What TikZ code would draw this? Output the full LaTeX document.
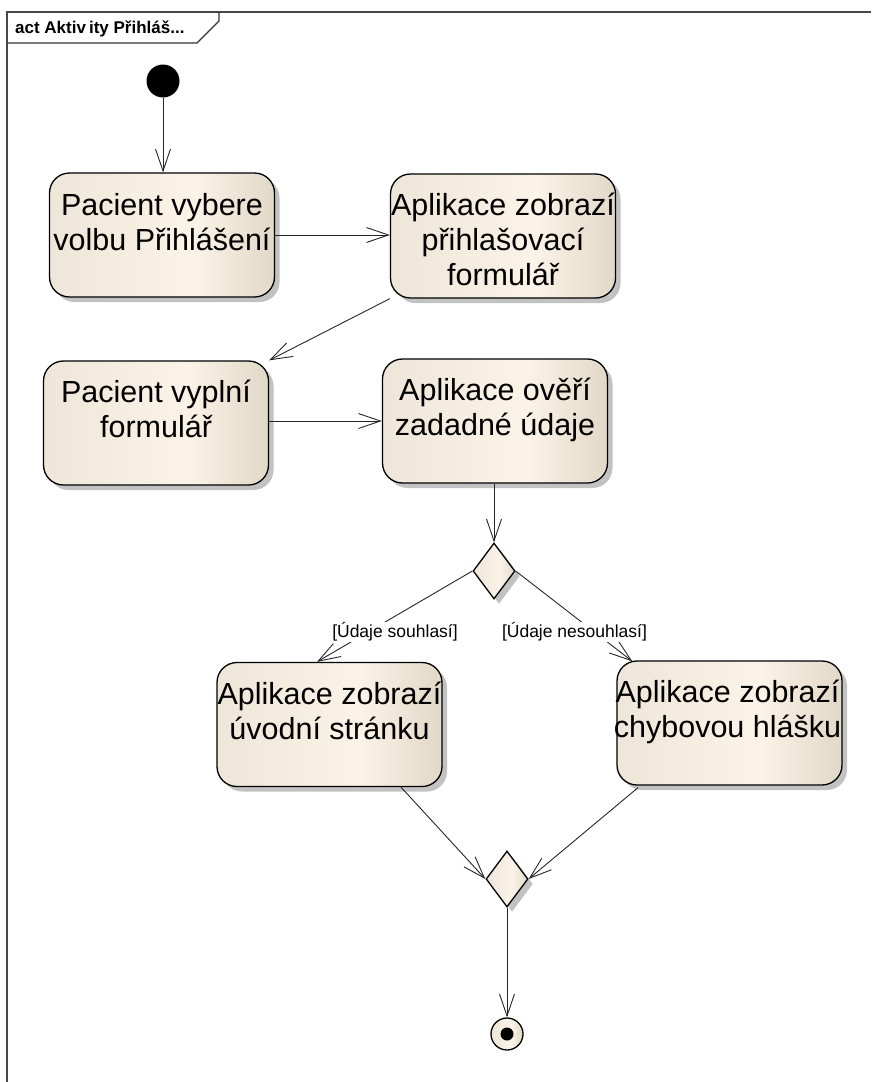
\documentclass[tikz,border=0pt]{standalone}
\usepackage{fontspec}
\setmainfont{Liberation Sans}
\usetikzlibrary{arrows.meta,shapes.geometric,shadows,calc}

\definecolor{actL}{RGB}{238,230,216}
\definecolor{actM}{RGB}{251,243,231}
\definecolor{actR}{RGB}{226,216,200}
\definecolor{frameC}{RGB}{72,72,72}
\pgfdeclarehorizontalshading{actshade}{100bp}{color(0bp)=(actL); color(25bp)=(actL); color(57bp)=(actM); color(75bp)=(actR); color(100bp)=(actR)}

\newcommand\firstline{\rule{0pt}{23pt}}

\tikzset{
  actshadow/.style={drop shadow={shadow xshift=5pt, shadow yshift=-5pt, fill=black!24, opacity=1}},
  actbox/.style={draw=black, line width=1.3pt, rounded corners=20pt, shading=actshade,
    minimum width=225pt, minimum height=124pt, inner sep=0pt, actshadow},
  acttext/.style={anchor=north, inner sep=0pt, align=center, font=\fontsize{30.5}{35}\selectfont},
  flow/.style={draw=black!85, line width=0.9pt, -{Straight Barb[length=22pt,width=15pt]}},
  guard/.style={fill=white, inner sep=1pt, font=\fontsize{17.5}{20}\selectfont},
  decision/.style={diamond, draw=black, line width=1.3pt, shading=actshade,
    minimum width=42pt, minimum height=56pt, inner sep=0pt, actshadow},
}

\begin{document}
\begin{tikzpicture}[x=1pt, y=-1pt]
\useasboundingbox (0,0) rectangle (871,1082);

% diagram frame and its name tab
\draw[frameC, line width=1.5pt] (7,1082) -- (7,12) -- (871,12);
\draw[black!80, line width=1.2pt] (7,43) -- (197,43) -- (219,21) -- (219,12);
\node[anchor=base west, inner sep=0pt, font=\bfseries\fontsize{17}{20}\selectfont] (title) at (15,33) {act Aktiv\kern3pt ity Přihláš...};

% initial and final nodes
\node[circle, fill=black, minimum size=33pt, inner sep=0pt] (start) at (163,81) {};
\node[circle, draw=black, line width=1.3pt, shading=actshade, minimum size=32pt, inner sep=0pt] (end) at (507,1034) {};
\node[circle, fill=black, minimum size=13pt, inner sep=0pt] (enddot) at (end) {};

% actions
\node[actbox] (b1) at (162,235) {};
\node[acttext] (t1) at ($(b1.north)+(0,20)$) {\firstline Pacient vybere\\volbu Přihlášení};
\node[actbox] (b2) at (503,236) {};
\node[acttext] (t2) at ($(b2.north)+(0,19)$) {\firstline Aplikace zobrazí\\přihlašovací\\formulář};
\node[actbox] (b3) at (156,423) {};
\node[acttext] (t3) at ($(b3.north)+(0,19)$) {\firstline Pacient vyplní\\formulář};
\node[actbox] (b4) at (495,421) {};
\node[acttext] (t4) at ($(b4.north)+(0,19)$) {\firstline Aplikace ověří\\zadadné údaje};
\node[actbox] (b5) at (329.5,724.5) {};
\node[acttext] (t5) at ($(b5.north)+(0,19)$) {\firstline Aplikace zobrazí\\úvodní stránku};
\node[actbox] (b6) at (729.5,723) {};
\node[acttext] (t6) at ($(b6.north)+(-2,19)$) {\firstline Aplikace zobrazí\\chybovou hlášku};

% decision and merge
\node[decision] (d1) at (494,571) {};
\node[decision] (d2) at (507,879) {};

% control flows
\draw[flow] (start) -- (start |- b1.north);
\draw[flow] (b1.east) -- (b1.east -| b2.west);
\draw[flow] (b2.south west) -- (b3.north east);
\draw[flow] (b4.west -| b3.east) -- (b4.west);
\draw[flow] (d1.north |- b4.south) -- (d1.north);
\draw[flow] (d1.west) -- ($(b5.north)+(-12.5,0)$);
\draw[flow] (d1.east) -- ($(b6.north west)+(16,1)$);
\draw[flow] ($(b5.south)+(71.5,0)$) -- (d2.west);
\draw[flow] ($(b6.south)+(-91.5,2)$) -- (d2.east);
\draw[flow] (d2.south) -- (d2.south |- end.north);

% guards
\node[guard] (g1) at (395,632) {[Údaje souhlasí]};
\node[guard] (g2) at (574.5,632) {[Údaje nesouhlasí]};
\end{tikzpicture}
\end{document}
